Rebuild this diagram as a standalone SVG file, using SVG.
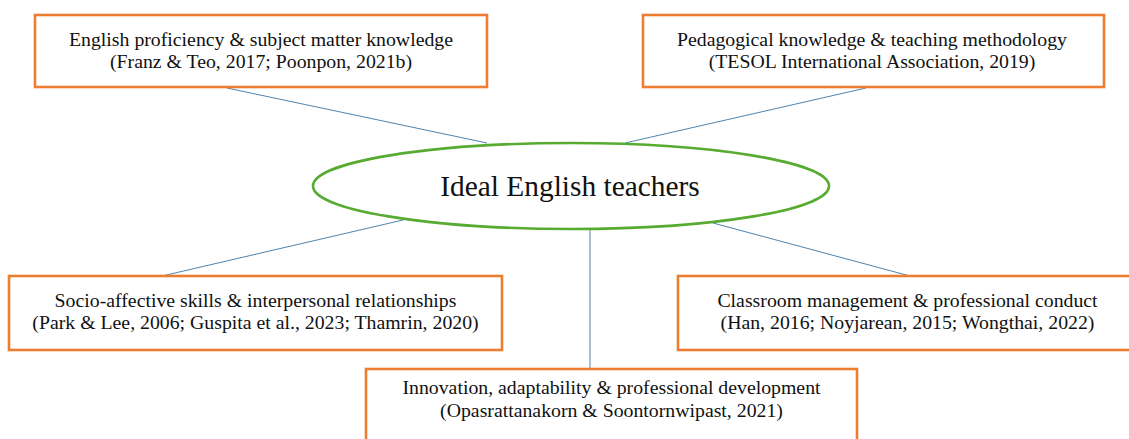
<svg xmlns="http://www.w3.org/2000/svg" width="1129" height="439" viewBox="0 0 1129 439">
<style>
.box{fill:#fff;stroke:#ED7D31;stroke-width:2.6}
.hub{fill:#fff;stroke:#56AB30;stroke-width:2.6}
.conn{stroke:#4F84AE;stroke-width:1;fill:none}
.t{font-family:"Liberation Serif","Times New Roman",serif;font-size:19.8px;fill:#111;text-anchor:middle}
.h{font-family:"Liberation Serif","Times New Roman",serif;font-size:29.4px;fill:#111;text-anchor:middle}
</style>
<rect width="1129" height="439" fill="#fff"/>
<g id="connectors">
<line class="conn" x1="227" y1="88" x2="487" y2="143"/>
<line class="conn" x1="866" y1="88" x2="625" y2="143"/>
<line class="conn" x1="162" y1="276" x2="403" y2="220"/>
<line class="conn" x1="910" y1="276" x2="713" y2="223"/>
<line class="conn" x1="590" y1="229" x2="590" y2="369"/>
</g>
<g id="hub">
<ellipse class="hub" cx="571" cy="186" rx="258" ry="43"/>
<text class="h" x="570" y="195.5">Ideal English teachers</text>
</g>
<g id="n1">
<rect class="box" x="35" y="15" width="452" height="72"/>
<text class="t" x="261" y="45.5">English proficiency &amp; subject matter knowledge</text>
<text class="t" x="261" y="68">(Franz &amp; Teo, 2017; Poonpon, 2021b)</text>
</g>
<g id="n2">
<rect class="box" x="643" y="15" width="461" height="72"/>
<text class="t" x="872" y="45.5">Pedagogical knowledge &amp; teaching methodology</text>
<text class="t" x="872" y="68">(TESOL International Association, 2019)</text>
</g>
<g id="n3">
<rect class="box" x="9" y="276" width="493" height="74"/>
<text class="t" x="255.5" y="306.5">Socio-affective skills &amp; interpersonal relationships</text>
<text class="t" x="255.5" y="329">(Park &amp; Lee, 2006; Guspita et al., 2023; Thamrin, 2020)</text>
</g>
<g id="n4">
<rect class="box" x="678" y="276" width="459" height="74"/>
<text class="t" x="907.5" y="306.5">Classroom management &amp; professional conduct</text>
<text class="t" x="907.5" y="329">(Han, 2016; Noyjarean, 2015; Wongthai, 2022)</text>
</g>
<g id="n5">
<rect class="box" x="366" y="369" width="491" height="80"/>
<text class="t" x="611.5" y="394">Innovation, adaptability &amp; professional development</text>
<text class="t" x="611.5" y="416.5">(Opasrattanakorn &amp; Soontornwipast, 2021)</text>
</g>
</svg>
